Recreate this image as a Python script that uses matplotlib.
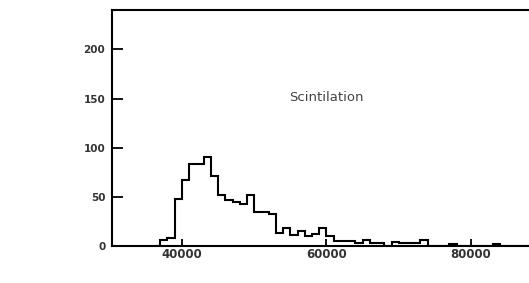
import numpy as np
import matplotlib
matplotlib.use("Agg")
import matplotlib.pyplot as plt

# histogram data (1000-wide bins from 36000)
bin_start = 36000
bin_width = 1000
counts = [1, 7, 9, 48, 67, 84, 84, 91, 72, 52,
          47, 45, 43, 52, 35, 35, 33, 14, 19, 12,
          16, 11, 13, 19, 11, 6, 6, 6, 4, 7,
          4, 4, 1, 5, 4, 4, 4, 7, 1, 1,
          1, 3, 1, 1, 1, 1, 1, 3, 0, 0,
          1, 1, 1]
xticks = [40000, 60000, 80000]
yticks = [0, 50, 100, 150, 200]
label = "Scintilation"

edges = bin_start + bin_width * np.arange(len(counts) + 1)

fig = plt.figure(figsize=(5.29, 2.83), dpi=100)
ax = fig.add_axes([0.2123, 0.129, 0.79, 0.8357])

ax.stairs(counts, edges, color="black", linewidth=1.5, zorder=3)

ax.set_xlim(30370, 88190)
ax.set_ylim(0, 240)
ax.set_xticks(xticks)
ax.set_yticks(yticks)

for s in ["left", "bottom", "top"]:
    ax.spines[s].set_linewidth(1.5)
ax.spines["right"].set_visible(False)

ax.tick_params(axis="y", direction="in", length=8, width=1.3, pad=5,
               labelsize=7.5, labelcolor="#333333")
ax.tick_params(axis="x", direction="in", length=5, width=1.3, pad=1,
               labelsize=8.5, labelcolor="#333333")
for t in ax.get_xticklabels() + ax.get_yticklabels():
    t.set_fontweight("bold")

ax.text(60000, 151, label, ha="center", va="center", fontsize=9.5, color="#444444")

fig.savefig("out.png", dpi=100)
